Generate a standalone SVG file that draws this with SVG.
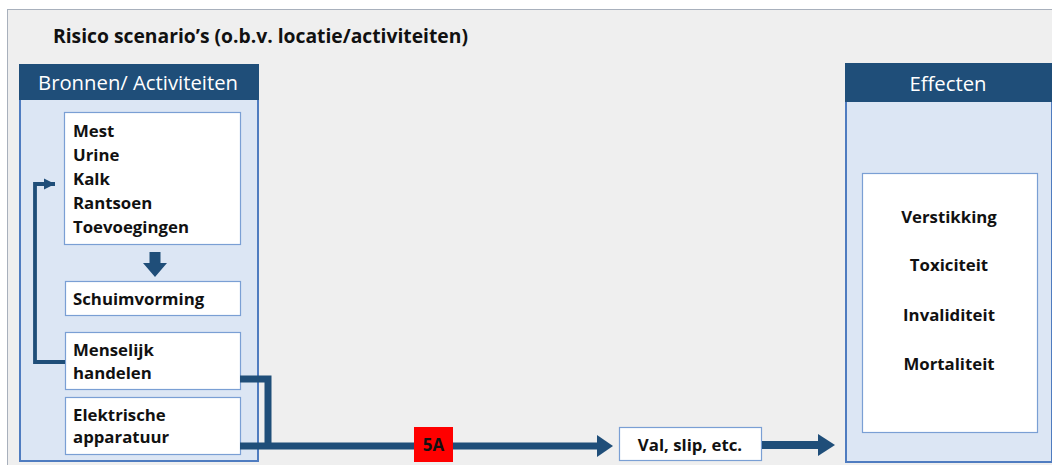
<svg xmlns="http://www.w3.org/2000/svg" width="1052" height="465" viewBox="0 0 1052 465">
<defs>
<style>
.t{font-family:"Open Sans","Liberation Sans",sans-serif;font-weight:bold;fill:#111;}
.b{font-size:16.8px;}
.h{font-family:"Open Sans","Liberation Sans",sans-serif;fill:#fff;font-size:20.3px;}
.panel{fill:#dce6f4;stroke:#4f7cc0;stroke-width:2;}
.head{fill:#1f4e79;}
.box{fill:#fff;stroke:#7a9fd4;stroke-width:1.2;}
.ln{fill:none;stroke:#1f4e79;stroke-linejoin:miter;}
</style>
<marker id="ah" viewBox="0 0 10 10" refX="10" refY="5" markerWidth="3" markerHeight="3" orient="auto" markerUnits="strokeWidth"><path d="M0,0 L10,5 L0,10 z" fill="#1f4e79"/></marker>
</defs>
<rect x="0" y="0" width="1052" height="465" fill="#ffffff"/>
<rect x="7.5" y="9.5" width="1050" height="460" fill="#efefef" stroke="#a8b0bc" stroke-width="1"/>
<text class="t" x="53" y="43" font-size="19.3">Risico scenario’s (o.b.v. locatie/activiteiten)</text>

<g id="bronnen">
<rect class="panel" x="20" y="65" width="238" height="396"/>
<rect class="head" x="19" y="64" width="240" height="36"/>
<text class="h" x="138" y="90" text-anchor="middle">Bronnen/ Activiteiten</text>
</g>
<g id="stoffen">
<rect class="box" x="64.5" y="112.5" width="176" height="132"/>
<text class="t b"><tspan x="73" y="137">Mest</tspan><tspan x="73" y="161">Urine</tspan><tspan x="73" y="185">Kalk</tspan><tspan x="73" y="209">Rantsoen</tspan><tspan x="73" y="233">Toevoegingen</tspan></text>
</g>
<g id="schuimvorming">
<rect class="box" x="65.5" y="281.5" width="175" height="34"/>
<text class="t b" x="73" y="305">Schuimvorming</text>
</g>
<g id="menselijk">
<rect class="box" x="65.5" y="332.5" width="175" height="57"/>
<text class="t b"><tspan x="73" y="356">Menselijk</tspan><tspan x="73" y="379">handelen</tspan></text>
</g>
<g id="elektrisch">
<rect class="box" x="65.5" y="397.5" width="175" height="57"/>
<text class="t b"><tspan x="73" y="421">Elektrische</tspan><tspan x="73" y="443">apparatuur</tspan></text>
</g>

<g id="effecten">
<rect class="panel" x="846" y="64" width="206" height="398"/>
<rect class="head" x="845" y="63" width="207" height="39"/>
<text class="h" x="948" y="91" text-anchor="middle">Effecten</text>
<rect class="box" x="862.5" y="173.5" width="175" height="259"/>
<text class="t b" text-anchor="middle"><tspan x="949" y="223">Verstikking</tspan><tspan x="949" y="271">Toxiciteit</tspan><tspan x="949" y="321">Invaliditeit</tspan><tspan x="949" y="370">Mortaliteit</tspan></text>
</g>

<g id="val">
<rect class="box" x="619.5" y="427.5" width="142" height="33"/>
<text class="t b" x="690" y="451" text-anchor="middle">Val, slip, etc.</text>
</g>

<g id="connectors">
<path d="M149.5,252 H160.5 V263 H167 L155,277 L143,263 H149.5 Z" fill="#1f4e79"/>
<path class="ln" d="M65,362 H35 V184 H55" stroke-width="3.8" marker-end="url(#ah)"/>
<path class="ln" d="M240,379 H268 V446" stroke-width="7"/>
<path class="ln" d="M240,446 H598" stroke-width="7"/>
<path d="M597,435 L613,446 L597,457 Z" fill="#1f4e79"/>
<path class="ln" d="M762,445 H820" stroke-width="8"/>
<path d="M818,434 L835,445 L818,456 Z" fill="#1f4e79"/>
</g>
<g id="label5a">
<rect x="414" y="427" width="39" height="35" fill="#ff0000"/>
<text class="t" x="433.5" y="451" font-size="17" text-anchor="middle" fill="#330000">5A</text>
</g>
</svg>
